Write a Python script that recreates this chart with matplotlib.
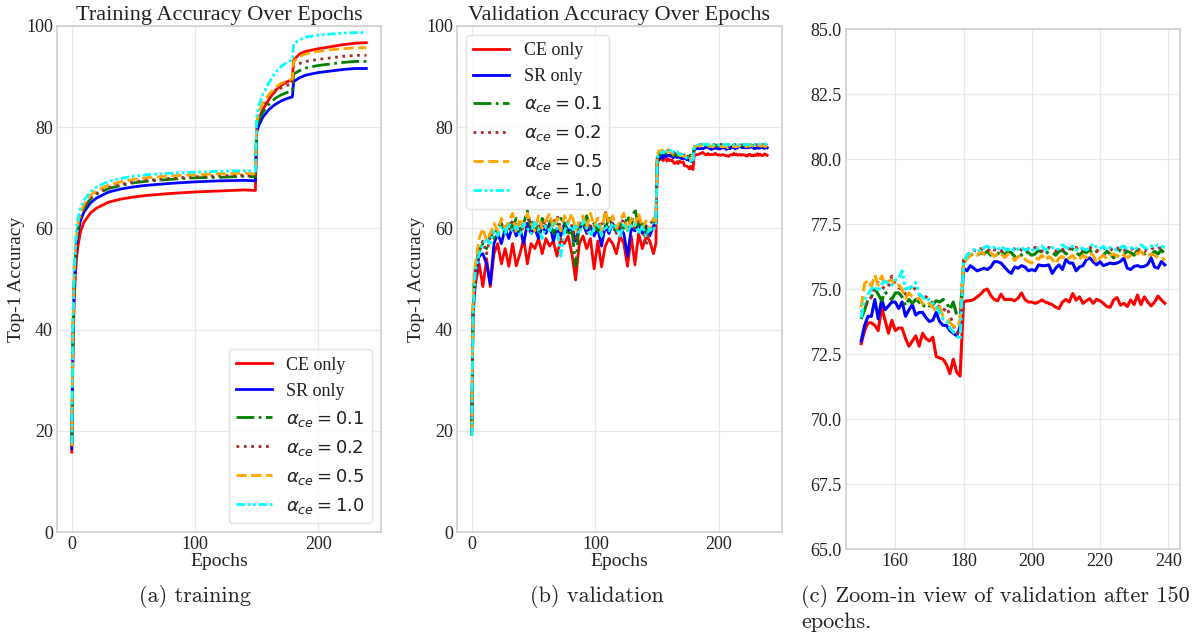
import numpy as np
import matplotlib
matplotlib.use("Agg")
import matplotlib.pyplot as plt

plt.rcParams['font.family'] = ['Liberation Serif', 'DejaVu Serif']
plt.rcParams['mathtext.fontset'] = 'dejavusans'

labels = ['CE only', 'SR only', r'$\alpha_{ce} = 0.1$', r'$\alpha_{ce} = 0.2$',
          r'$\alpha_{ce} = 0.5$', r'$\alpha_{ce} = 1.0$']
colors = ['red', 'blue', 'green', 'brown', 'orange', 'cyan']
styles = ['-', '-', '-.', ':', '--', (0, (3, 1, 1, 1, 1, 1))]

#%% training accuracy
train_epochs = [0, 1, 2, 3, 4, 5, 7, 10, 15, 20, 30, 40, 50, 60, 80, 100, 120, 140, 149,
                150, 152, 155, 160, 165, 170, 175, 179, 180, 185, 190, 200, 210, 220, 230, 239]
train_ce = [15.8, 36, 46, 51, 54.5, 56.5, 59.3, 61.3, 63.0, 64.0, 65.2, 65.8, 66.2, 66.5, 66.9, 67.2, 67.4, 67.6, 67.5,
            79.5, 81.8, 83.5, 85.5, 87.2, 88.3, 89.0, 89.4, 93.3, 94.5, 95.0, 95.5, 95.9, 96.3, 96.6, 96.7]
train_sr = [16.5, 39, 49, 54, 57, 59, 61.5, 63.3, 65.0, 66.0, 67.2, 67.8, 68.2, 68.5, 68.9, 69.2, 69.4, 69.5, 69.4,
            79.0, 80.5, 82.0, 83.5, 84.5, 85.2, 85.7, 86.0, 89.0, 89.8, 90.3, 90.8, 91.1, 91.4, 91.6, 91.6]
train_a01 = [17, 40, 50, 55, 58, 60, 62.3, 64.0, 65.8, 66.8, 67.9, 68.5, 69.0, 69.3, 69.7, 70.0, 70.1, 70.3, 70.2,
             80.0, 81.5, 83.0, 84.5, 85.7, 86.4, 86.9, 87.2, 90.5, 91.2, 91.7, 92.2, 92.5, 92.8, 93.0, 93.0]
train_a02 = [17, 40, 50, 55, 58, 60, 62.5, 64.2, 66.0, 67.0, 68.1, 68.7, 69.2, 69.5, 69.9, 70.2, 70.4, 70.5, 70.4,
             80.5, 82.3, 84.0, 85.8, 87.0, 87.8, 88.3, 88.6, 92.0, 92.6, 93.0, 93.4, 93.7, 94.0, 94.2, 94.2]
train_a05 = [17, 41, 51, 56, 59, 61, 63, 64.8, 66.5, 67.5, 68.6, 69.2, 69.7, 70.0, 70.4, 70.6, 70.8, 70.9, 70.8,
             81.0, 83.0, 84.8, 86.5, 87.8, 88.7, 89.2, 89.6, 93.0, 94.0, 94.5, 95.0, 95.3, 95.5, 95.7, 95.7]
train_a10 = [17.5, 42, 52, 57, 60, 62, 64, 65.6, 67.2, 68.2, 69.3, 69.9, 70.3, 70.6, 70.9, 71.1, 71.3, 71.4, 71.3,
             82.0, 84.5, 86.5, 88.8, 90.8, 92.0, 92.9, 93.3, 96.5, 97.3, 97.8, 98.2, 98.4, 98.6, 98.7, 98.7]

#%% validation accuracy, epochs 0-149 (every 3rd epoch) and 150-239 (every epoch)
val_epochs = [0, 1, 2, 3] + list(range(6, 148, 3)) + [149] + list(range(150, 240))

val_ce_early = [21, 42, 46, 49, 53, 48.5, 54, 48.5, 55, 57, 53, 56, 52.5, 57, 52.6, 55, 58, 53, 57, 56,
                58, 55, 58, 56.5, 57.5, 54.5, 58, 57, 58.5, 55, 49.8, 57, 58.5, 56, 58, 52, 57.5, 52.4, 56.5, 58,
                57, 55, 58.5, 57, 52.5, 58.5, 52.8, 59, 56, 58.5, 57.5, 55, 57]
val_sr_early = [20, 43, 48, 51, 54.5, 55, 53, 49, 57, 59, 57, 60, 58, 60.5, 58.5, 60, 57, 61, 59, 60,
                58, 60.5, 59, 61, 57.5, 60, 58.5, 61, 59.5, 60, 57.5, 60, 61, 59, 60.5, 58.5, 60, 56.5, 60.5, 59,
                61, 59.5, 60, 59, 54.5, 60, 59.5, 61, 59, 60.5, 58.5, 60.5, 61]
val_a01_early = [19, 44, 49.5, 52, 55.5, 57, 56, 59, 58, 60.5, 61, 59, 61.5, 60, 62, 59.5, 61, 63.5, 60, 61,
                 59, 62, 60.5, 61.5, 59, 60.5, 62, 61, 58.5, 60, 52.5, 61, 60, 62.5, 60, 61, 59.5, 61.5, 60, 62,
                 60.5, 59, 61, 60, 62.5, 60.5, 64, 60, 61.5, 59, 60.5, 62, 61]
val_a02_early = [19.5, 43, 49, 52.5, 56, 57.5, 55, 58.5, 59.5, 59, 60.5, 61, 59.5, 61.5, 60, 61, 59.5, 61.5, 62, 59.5,
                 61, 60, 62, 59.5, 61, 62.5, 60, 59, 61.5, 60.5, 58, 60.5, 62, 59, 61, 60.5, 62, 59.5, 63.5, 60,
                 61.5, 59, 60.5, 62, 60, 61.5, 60, 62, 60.5, 56.5, 59.5, 61, 62]
val_a05_early = [20, 46, 51, 53, 58, 60, 57.5, 59, 61, 59.5, 62, 60, 61.5, 63, 59, 62, 60.5, 63, 61, 59.5,
                 62.5, 60, 61.5, 63, 60, 62, 59.5, 62.5, 61, 63, 59.5, 61.5, 62.5, 60, 63, 60.5, 62, 59.5, 63.5, 61,
                 62.5, 60, 61.5, 63, 59.5, 62, 60.5, 63, 60, 61.5, 59.5, 62, 61.5]
val_a10_early = [19, 42, 48, 51.5, 55, 57, 58, 57, 59.5, 58.5, 60.5, 59, 61, 59.5, 60.5, 58.5, 61, 60, 59, 61.5,
                 60, 58, 60.5, 59.5, 61, 60, 54.5, 59.5, 61, 59.5, 60.5, 59, 61.5, 60, 58.5, 60, 61, 58.5, 60.5, 59.5,
                 61, 60, 58.5, 61, 59.5, 60.5, 61, 59, 60.5, 58.5, 60, 59.5, 61]

val_ce_late = [72.9, 73.4, 73.7, 73.7, 73.6, 73.4, 74.3, 73.8, 73.3, 73.8,
               73.4, 73.5, 73.5, 73.1, 72.8, 73.0, 73.2, 72.8, 73.3, 73.1,
               73.0, 73.15, 72.4, 72.35, 72.3, 72.1, 71.75, 72.3, 71.8, 71.65,
               74.5, 74.55, 74.55, 74.6, 74.7, 74.8, 74.95, 75.0, 74.75, 74.6,
               74.55, 74.8, 74.6, 74.6, 74.6, 74.55, 74.65, 74.85, 74.6, 74.5,
               74.5, 74.45, 74.5, 74.58, 74.5, 74.45, 74.4, 74.3, 74.25, 74.5,
               74.6, 74.5, 74.83, 74.57, 74.7, 74.45, 74.55, 74.63, 74.45, 74.6,
               74.55, 74.45, 74.33, 74.3, 74.58, 74.67, 74.38, 74.45, 74.33, 74.58,
               74.4, 74.77, 74.4, 74.7, 74.5, 74.35, 74.5, 74.73, 74.58, 74.45]
val_sr_late = [73.0, 73.6, 73.95, 73.95, 74.6, 73.85, 74.6, 74.2, 74.35, 74.5,
               74.5, 74.25, 74.5, 73.95, 74.2, 74.4, 74.0, 74.1, 74.1, 73.9,
               73.75, 73.8, 74.1, 73.75, 73.6, 73.6, 73.4, 73.3, 73.2, 73.55,
               75.8, 75.7, 75.9, 75.8, 75.7, 75.75, 75.8, 75.75, 75.85, 76.05,
               76.05, 76.0, 75.85, 75.7, 75.6, 75.85, 75.8, 75.9, 75.85, 75.7,
               75.75, 75.7, 75.93, 75.9, 75.9, 75.93, 75.6, 75.8, 75.93, 75.75,
               76.13, 76.0, 76.0, 75.7, 75.85, 75.9, 76.13, 76.2, 76.05, 75.93,
               76.05, 75.9, 75.95, 76.0, 75.97, 76.0, 76.06, 76.19, 75.8, 75.75,
               75.87, 75.9, 75.85, 75.87, 75.95, 76.19, 75.85, 75.8, 76.06, 75.93]
val_a01_late = [73.85, 74.2, 74.6, 74.7, 75.0, 74.8, 74.55, 74.9, 74.7, 74.6,
                74.85, 74.85, 74.7, 74.35, 74.6, 74.45, 74.6, 74.5, 74.3, 74.45,
                74.35, 74.4, 74.55, 74.5, 74.6, 74.5, 74.2, 74.5, 74.0, 73.9,
                76.0, 76.2, 76.3, 76.35, 76.3, 76.4, 76.35, 76.45, 76.3, 76.4,
                76.35, 76.5, 76.3, 76.45, 76.4, 76.25, 76.35, 76.3, 76.45, 76.4,
                76.3, 76.35, 76.5, 76.4, 76.35, 76.45, 76.4, 76.3, 76.45, 76.5,
                76.35, 76.4, 76.55, 76.4, 76.3, 76.45, 76.4, 76.5, 76.35, 76.45,
                76.4, 76.3, 76.45, 76.35, 76.2, 76.4, 76.5, 76.35, 76.45, 76.4,
                76.3, 76.5, 76.45, 76.35, 76.4, 76.3, 76.45, 76.35, 76.5, 76.35]
val_a02_late = [74.1, 74.3, 74.5, 74.7, 75.1, 75.25, 75.1, 75.0, 75.1, 75.5,
                75.2, 75.05, 75.0, 74.8, 75.0, 75.15, 74.95, 74.8, 74.65, 74.7,
                74.6, 74.45, 74.4, 74.3, 74.15, 74.3, 74.0, 73.6, 73.3, 73.4,
                76.1, 76.3, 76.4, 76.5, 76.45, 76.55, 76.5, 76.45, 76.6, 76.5,
                76.55, 76.45, 76.6, 76.5, 76.45, 76.55, 76.6, 76.5, 76.45, 76.55,
                76.5, 76.6, 76.55, 76.45, 76.5, 76.6, 76.5, 76.45, 76.55, 76.5,
                76.6, 76.55, 76.5, 76.6, 76.45, 76.5, 76.55, 76.6, 76.5, 76.45,
                76.55, 76.6, 76.5, 76.55, 76.45, 76.55, 76.6, 76.5, 76.55, 76.5,
                76.6, 76.5, 76.55, 76.45, 76.55, 76.6, 76.5, 76.55, 76.6, 76.55]
val_a05_late = [74.3, 75.2, 75.35, 75.1, 75.55, 75.15, 75.5, 75.15, 75.3, 75.35,
                75.1, 75.15, 75.0, 74.65, 74.85, 74.7, 74.6, 74.65, 74.45, 74.35,
                74.45, 74.3, 74.15, 74.3, 73.95, 73.85, 73.7, 73.6, 73.5, 73.8,
                76.0, 76.15, 76.3, 76.4, 76.3, 76.45, 76.35, 76.3, 76.4, 76.25,
                76.35, 76.4, 76.2, 76.35, 76.3, 76.1, 76.25, 76.3, 76.15, 76.05,
                76.0, 76.2, 76.15, 76.3, 76.1, 76.25, 76.15, 75.95, 76.2, 76.25,
                76.1, 76.2, 76.3, 76.1, 76.15, 76.3, 76.2, 76.4, 76.3, 76.0,
                76.2, 76.3, 76.15, 76.3, 76.35, 76.25, 76.4, 76.3, 76.2, 76.3,
                76.4, 76.35, 76.45, 76.3, 76.25, 76.35, 76.3, 76.2, 76.25, 76.1]
val_a10_late = [73.9, 74.6, 74.8, 75.0, 75.1, 74.9, 75.2, 75.3, 75.2, 75.15,
                75.35, 75.4, 75.7, 75.0, 75.05, 75.1, 75.25, 74.8, 74.7, 74.55,
                74.6, 74.45, 74.3, 74.1, 73.85, 73.8, 73.5, 73.35, 73.2, 73.05,
                76.0, 76.3, 76.4, 76.5, 76.55, 76.45, 76.6, 76.65, 76.55, 76.6,
                76.5, 76.65, 76.55, 76.5, 76.6, 76.45, 76.55, 76.6, 76.5, 76.55,
                76.45, 76.6, 76.55, 76.65, 76.5, 76.55, 76.6, 76.5, 76.55, 76.7,
                76.6, 76.55, 76.65, 76.5, 76.6, 76.55, 76.5, 76.6, 76.75, 76.6,
                76.55, 76.65, 76.5, 76.6, 76.55, 76.5, 76.6, 76.65, 76.55, 76.6,
                76.5, 76.6, 76.7, 76.6, 76.55, 76.65, 76.6, 76.7, 76.65, 76.6]

train = [train_ce, train_sr, train_a01, train_a02, train_a05, train_a10]
val = [val_ce_early + val_ce_late, val_sr_early + val_sr_late, val_a01_early + val_a01_late,
       val_a02_early + val_a02_late, val_a05_early + val_a05_late, val_a10_early + val_a10_late]

#%% figure
fig = plt.figure(figsize=(12.01, 6.37), dpi=100)
ax1 = fig.add_axes([0.0475, 0.1648, 0.2698, 0.7944])
ax2 = fig.add_axes([0.3805, 0.1648, 0.2706, 0.7944])
ax3 = fig.add_axes([0.7044, 0.1381, 0.2781, 0.8163])

txt = '#222222'
for ax in (ax1, ax2, ax3):
    ax.grid(True, color='#e8e8e8', linewidth=0.9)
    ax.set_axisbelow(True)
    for s in ax.spines.values():
        s.set_color('#cccccc')
        s.set_linewidth(1.1)
    ax.tick_params(length=0, pad=3, labelsize=13, colors=txt)

ve = np.array(val_epochs)
zoom = ve >= 150
for i in range(6):
    ax1.plot(train_epochs, train[i], color=colors[i], linestyle=styles[i], lw=2, label=labels[i])
    ax2.plot(val_epochs, val[i], color=colors[i], linestyle=styles[i], lw=2, label=labels[i])
    ax3.plot(ve[zoom], np.array(val[i])[zoom], color=colors[i], linestyle=styles[i], lw=2.2)

for ax, title in ((ax1, 'Training Accuracy Over Epochs'), (ax2, 'Validation Accuracy Over Epochs')):
    ax.set_ylim(0, 100)
    ax.set_xticks([0, 100, 200])
    ax.set_title(title, fontsize=16, color=txt, pad=4)
    ax.set_xlabel('Epochs', fontsize=14, color=txt, labelpad=0)
    ax.set_ylabel('Top-1 Accuracy', fontsize=14, color=txt, labelpad=1)

ax3.set_ylim(65, 85)
ax3.set_yticks(np.arange(65, 85.1, 2.5))
ax3.set_yticklabels(['%.1f' % v for v in np.arange(65, 85.1, 2.5)])
ax3.set_xticks([160, 180, 200, 220, 240])

leg_kw = dict(fontsize=13, frameon=True, framealpha=0.8, edgecolor='#dddddd', labelcolor=txt)
ax1.legend(loc='lower right', **leg_kw)
ax2.legend(loc='upper left', **leg_kw)

cap = dict(fontsize=16, family='cmr10', color=txt)
fig.text(0.1625, 0.064, '(a) training', ha='center', va='center', **cap)
fig.text(0.497, 0.064, '(b) validation', ha='center', va='center', **cap)
fig.text(0.667, 0.064, '(c) Zoom-in view of validation after 150', ha='left', va='center', **cap)
fig.text(0.667, 0.023, 'epochs.', ha='left', va='center', **cap)

fig.savefig('out.png', dpi=100)
